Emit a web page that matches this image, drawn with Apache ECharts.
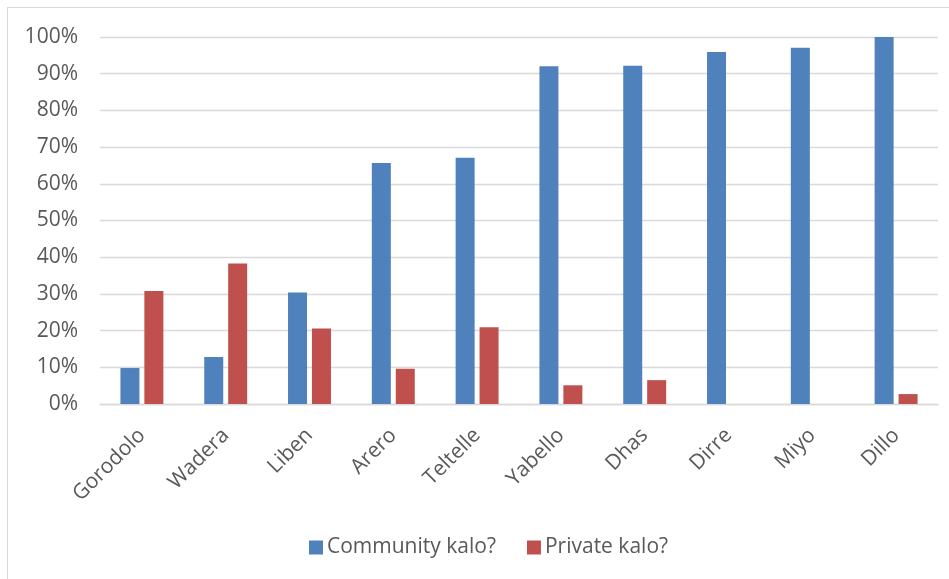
<!DOCTYPE html>
<html>
<head>
<meta charset="utf-8">
<script src="https://cdn.jsdelivr.net/npm/echarts@6/dist/echarts.min.js"></script>
<style>
html,body{margin:0;padding:0;background:#fff;}
#frame{position:absolute;left:7px;top:7px;width:942px;height:580px;border:1px solid #d9d9d9;box-sizing:border-box;border-right:none;border-bottom:none;}
#chart{position:absolute;left:0;top:0;width:949px;height:579px;}
</style>
</head>
<body>
<div id="frame"></div>
<div id="chart"></div>
<script>
const categories = ['Gorodolo','Wadera','Liben','Arero','Teltelle','Yabello','Dhas','Dirre','Miyo','Dillo'];
const communityKalo = [9.8, 12.8, 30.4, 65.7, 67.1, 92.0, 92.2, 95.9, 97.1, 100];
const privateKalo = [30.8, 38.3, 20.6, 9.6, 20.9, 5.1, 6.5, 0, 0, 2.7];
const seriesNames = ['Community kalo?', 'Private kalo?'];
const yTicks = {min: 0, max: 100, interval: 10};

const FONT = '"Open Sans", "Liberation Sans", sans-serif';
const chart = echarts.init(document.getElementById('chart'), null, {renderer: 'canvas'});
chart.setOption({
  animation: false,
  backgroundColor: 'transparent',
  grid: {left: 100, right: 11, top: 37, bottom: 175, containLabel: false},
  legend: {
    top: 532,
    left: 304,
    itemWidth: 14,
    itemHeight: 14,
    itemGap: 31,
    icon: 'rect',
    textStyle: {fontFamily: FONT, fontSize: 21, color: '#595959', padding: [0,0,0,-1]},
    data: seriesNames
  },
  xAxis: {
    type: 'category',
    data: categories,
    axisLine: {show: true, lineStyle: {color: '#d9d9d9', width: 1.3}},
    axisTick: {show: false},
    axisLabel: {rotate: 45, margin: 28, fontFamily: FONT, fontSize: 21, color: '#595959', interval: 0}
  },
  yAxis: {
    type: 'value',
    min: yTicks.min, max: yTicks.max, interval: yTicks.interval,
    axisLine: {show: false},
    axisTick: {show: false},
    splitLine: {lineStyle: {color: '#d9d9d9', width: 1.3}},
    axisLabel: {margin: 22, fontFamily: FONT, fontSize: 21, color: '#595959', formatter: v => v + '%'}
  },
  series: [
    {name: seriesNames[0], type: 'bar', data: communityKalo, barWidth: 19, barGap: '26%',
     itemStyle: {color: '#4f81bd'}},
    {name: seriesNames[1], type: 'bar', data: privateKalo, barWidth: 19,
     itemStyle: {color: '#c0504d'}}
  ]
});
</script>
</body>
</html>
